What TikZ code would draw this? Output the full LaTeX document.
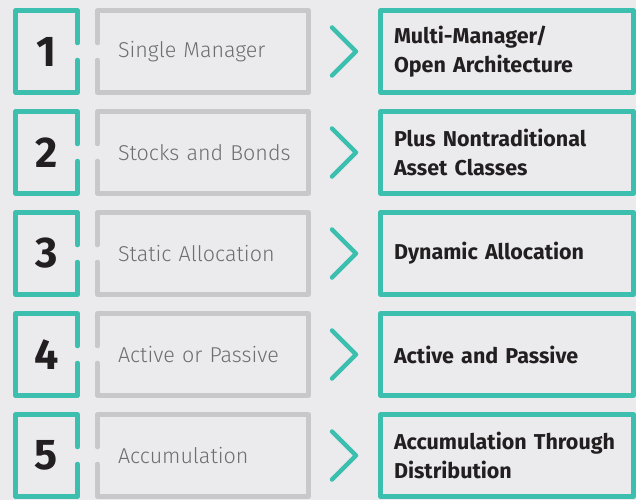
\documentclass[tikz,border=0pt]{standalone}
\usepackage{fontspec}
\setmainfont{Fira Sans}
\newfontfamily\lightfont{Fira Sans Light}
\usetikzlibrary{positioning}
\definecolor{pagebg}{HTML}{EBEBED}
\definecolor{tealgreen}{HTML}{3CBFAE}
\definecolor{framegray}{HTML}{C8C8CA}
\definecolor{oldtext}{HTML}{6D6E71}
\definecolor{darktext}{HTML}{231F20}

\begin{document}
\begin{tikzpicture}[x=1pt,y=-1pt,
    every node/.style={inner sep=0pt,outer sep=0pt},
    numbox/.style={minimum width=62pt,minimum height=82pt,
      font=\bfseries\fontsize{43}{43}\selectfont,text=darktext},
    oldbox/.style={minimum width=211pt,minimum height=82pt,text width=170pt,
      align=left,font=\lightfont\fontsize{21.5}{26}\selectfont,text=oldtext},
    newbox/.style={draw=tealgreen,line width=4.5pt,line join=round,
      minimum width=253pt,minimum height=82pt,text width=226pt,
      align=left,font=\bfseries\fontsize{21.5}{29}\selectfont,text=darktext},
    tealline/.style={draw=tealgreen,line width=4.5pt,line cap=round,line join=round},
    grayline/.style={draw=framegray,line width=4.5pt,line cap=round,line join=round}
  ]
  \fill[pagebg] (0,0) rectangle (636,500);
  \useasboundingbox (0,0) rectangle (636,500);

  \foreach \n/\old/\new [count=\i] in {
      1/Single Manager/{Multi-Manager/\\Open Architecture},
      2/Stocks and Bonds/{Plus Nontraditional\\Asset Classes},
      3/Static Allocation/{Dynamic Allocation},
      4/Active or Passive/{Active and Passive},
      5/Accumulation/{Accumulation Through\\Distribution}}
  {
    \node[numbox] (num\i) at (46.5,{51.5+101*(\i-1)}) {\n};
    \node[oldbox,right=20pt of num\i] (old\i) {\mbox{\old}};
    \node[newbox,right=72pt of old\i] (new\i) {\new};
    % frames with a small opening between number and old box
    \draw[tealline] ([yshift=8.5pt]num\i.east) -- (num\i.north east) -- (num\i.north west)
      -- (num\i.south west) -- (num\i.south east) -- ([yshift=-8.5pt]num\i.east);
    \draw[grayline] ([yshift=-8.5pt]old\i.west) -- (old\i.south west) -- (old\i.south east)
      -- (old\i.north east) -- (old\i.north west) -- ([yshift=8.5pt]old\i.west);
    \draw[tealline] ([xshift=-48.5pt,yshift=24pt]new\i.west) -- ([xshift=-24.5pt]new\i.west)
      -- ([xshift=-48.5pt,yshift=-24pt]new\i.west);
  }
\end{tikzpicture}
\end{document}
